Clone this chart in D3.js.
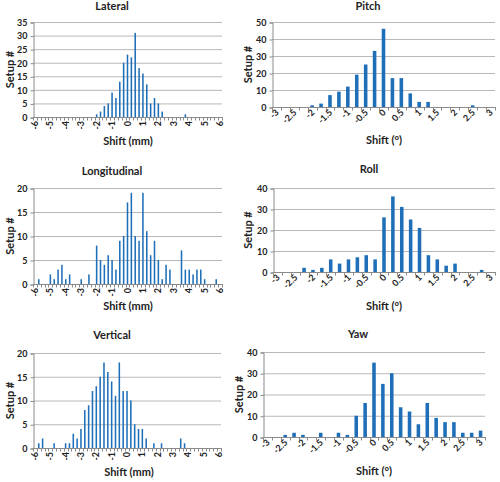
<!DOCTYPE html>
<html>
<head>
<meta charset="utf-8">
<script src="https://cdn.jsdelivr.net/npm/d3@7/dist/d3.min.js"></script>
<style>
  html, body { margin: 0; padding: 0; background: #fff; }
  svg text { font-family: Lato, "Open Sans", "Liberation Sans", sans-serif; font-weight: bold; fill: #222; }
</style>
</head>
<body>
<svg id="chart" width="500" height="482"></svg>
<script>
// Categories (bin centres)
const mmCategories = d3.range(-24, 25).map(i => i / 4);   // -6 .. 6 step 0.25
const degCategories = d3.range(-12, 13).map(i => i / 4);  // -3 .. 3 step 0.25
const mmTickLabels = [-6, -5, -4, -3, -2, -1, 0, 1, 2, 3, 4, 5, 6];
const degTickLabels = [-3, -2.5, -2, -1.5, -1, -0.5, 0, 0.5, 1, 1.5, 2, 2.5, 3];

// Counts per bin
const lateral = [0,0,0,0,0,0,0,0,0,0, 0,0,0,0,0,0,1,2,4,5, 9,7,13,20,23,22,31,18,16,12, 5,7,5,2,0,0,0,0,0,1, 0,0,0,0,0,0,0,0,0];
const longitudinal = [0,1,0,0,2,1,3,4,1,2, 0,0,1,0,2,0,8,5,4,6, 5,3,9,10,17,19,10,9,19,11, 6,9,5,1,4,3,0,0,7,3, 3,2,3,3,1,0,0,1,0];
const vertical = [0,1,2,0,0,1,0,0,1,1, 3,2,4,8,9,12,13,15,18,16, 14,11,18,12,12,10,5,4,4,2, 0,1,0,1,0,0,0,0,2,1, 0,0,0,0,0,0,0,0,0];
const pitch = [0,0,0,0,1,2,7,9,12,19, 25,33,46,17,17,8,3,3,0,0, 0,0,1,0,0];
const roll = [0,0,0,2,1,2,6,4,6,7, 8,6,26,36,31,25,21,8,6,3, 4,0,0,1,0];
const yaw = [0,0,1,2,1,0,2,0,2,1, 10,16,35,25,30,14,12,6,16,9, 7,7,2,2,3];

const lateralTicks = [0,5,10,15,20,25,30,35];
const longTicks = [0,5,10,15,20];
const vertTicks = [0,5,10,15,20];
const pitchTicks = [0,10,20,30,40,50];
const rollTicks = [0,10,20,30,40];
const yawTicks = [0,10,20,30,40];

const panels = [
  {title:"Lateral", xt:"Shift (mm)", cats:mmCategories, vals:lateral, labels:mmTickLabels, yt:lateralTicks,
   x0:33, x1:222, y0:117, y1:22, titleX:112, titleY:10, xtX:128, xtY:145, ytX:14, rot:-90},
  {title:"Longitudinal", xt:"Shift (mm)", cats:mmCategories, vals:longitudinal, labels:mmTickLabels, yt:longTicks,
   x0:33, x1:222, y0:284, y1:188, titleX:112, titleY:175, xtX:128, xtY:310, ytX:14, rot:-90},
  {title:"Vertical", xt:"Shift (mm)", cats:mmCategories, vals:vertical, labels:mmTickLabels, yt:vertTicks,
   x0:33, x1:221, y0:448, y1:353, titleX:112, titleY:339, xtX:129, xtY:476, ytX:14, rot:-90},
  {title:"Pitch", xt:"Shift (°)", cats:degCategories, vals:pitch, labels:degTickLabels, yt:pitchTicks,
   x0:272, x1:495, y0:107, y1:22, titleX:368, titleY:10, xtX:384, xtY:144, ytX:252, rot:-45},
  {title:"Roll", xt:"Shift (°)", cats:degCategories, vals:roll, labels:degTickLabels, yt:rollTicks,
   x0:273, x1:495, y0:272, y1:188, titleX:369, titleY:173, xtX:384, xtY:310, ytX:252, rot:-45},
  {title:"Yaw", xt:"Shift (°)", cats:degCategories, vals:yaw, labels:degTickLabels, yt:yawTicks,
   x0:263, x1:485, y0:437, y1:352, titleX:358, titleY:338, xtX:374, xtY:475, ytX:243, rot:-45}
];

const svg = d3.select("#chart");
const barColor = "#1f6fb8";

panels.forEach(p => {
  const g = svg.append("g");
  const xb = d3.scaleBand().domain(p.cats).range([p.x0, p.x1]);
  const y = d3.scaleLinear().domain([0, d3.max(p.yt)]).range([p.y0, p.y1]);

  // gridlines
  g.selectAll(".grid").data(p.yt.filter(t => t > 0)).enter().append("line")
    .attr("x1", p.x0).attr("x2", p.x1)
    .attr("y1", d => y(d) + 0.5).attr("y2", d => y(d) + 0.5)
    .attr("stroke", "#b8b8b8").attr("stroke-width", 1);

  // y axis
  const yAxis = d3.axisLeft(y).tickValues(p.yt).tickSize(3).tickPadding(3);
  const ya = g.append("g").attr("transform", `translate(${p.x0 + 0.5},0.5)`).call(yAxis);
  ya.select(".domain").attr("stroke", "#8a8a8a");
  ya.selectAll(".tick line").attr("stroke", "#8a8a8a");
  ya.selectAll("text").attr("font-size", 9).attr("fill", "#222");

  // bars
  g.selectAll(".bar").data(p.vals.map((v, i) => ({c: p.cats[i], v}))).enter()
    .filter(d => d.v > 0)
    .append("rect")
    .attr("x", d => xb(d.c) + xb.bandwidth() * 0.3)
    .attr("width", xb.bandwidth() * 0.4)
    .attr("y", d => y(d.v))
    .attr("height", d => y(0) - y(d.v))
    .attr("fill", barColor);

  // x axis line
  g.append("line").attr("x1", p.x0).attr("x2", p.x1)
    .attr("y1", p.y0 + 0.5).attr("y2", p.y0 + 0.5)
    .attr("stroke", "#8a8a8a");
  // x tick marks at band boundaries
  const bounds = p.cats.map(c => xb(c)).concat([p.x1]);
  g.selectAll(".xt").data(bounds).enter().append("line")
    .attr("x1", d => Math.round(d) + 0.5).attr("x2", d => Math.round(d) + 0.5)
    .attr("y1", p.y0).attr("y2", p.y0 + 3.5)
    .attr("stroke", "#8a8a8a");

  // x labels
  const cx = c => xb(c) + xb.bandwidth() / 2;
  g.selectAll(".xl").data(p.labels).enter().append("text")
    .attr("transform", d => p.rot === -90
      ? `translate(${cx(d) + 3},${p.y0 + 4}) rotate(-90)`
      : `translate(${cx(d) + 3},${p.y0 + 6}) rotate(-45)`)
    .attr("text-anchor", "end")
    .attr("font-size", 9)
    .text(d => String(d));

  // titles
  g.append("text").attr("x", p.titleX).attr("y", p.titleY).attr("text-anchor", "middle")
    .attr("font-size", 11).text(p.title);
  g.append("text").attr("x", p.xtX).attr("y", p.xtY).attr("text-anchor", "middle")
    .attr("font-size", 11).text(p.xt);
  g.append("text").attr("transform", `translate(${p.ytX},${(p.y0 + p.y1) / 2}) rotate(-90)`)
    .attr("text-anchor", "middle").attr("font-size", 11).text("Setup #");
});
</script>
</body>
</html>
